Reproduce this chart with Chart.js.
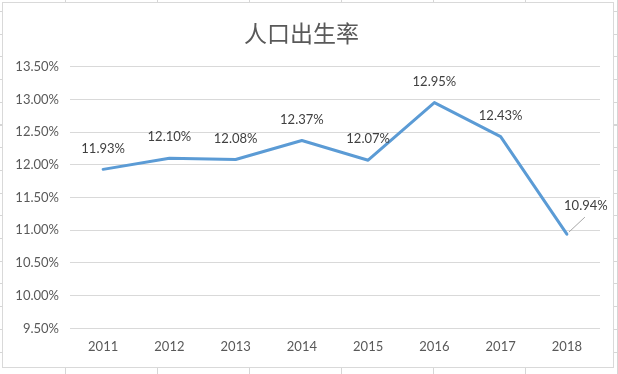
<!DOCTYPE html>
<html>
<head>
<meta charset="utf-8">
<script src="https://cdn.jsdelivr.net/npm/chart.js@4/dist/chart.umd.min.js"></script>
<style>
  html, body { margin: 0; padding: 0; }
  body {
    width: 618px; height: 374px; position: relative; overflow: hidden;
    background-color: #fff;
    background-image:
      repeating-linear-gradient(to right, transparent 0, transparent 65px, #d6d6d6 65px, #d6d6d6 66px, transparent 66px, transparent 92px),
      repeating-linear-gradient(to bottom, transparent 0, transparent 11px, #d6d6d6 11px, #d6d6d6 12px, transparent 12px, transparent 22.7px);
  }
  #box {
    position: absolute; left: 2px; top: 2px; width: 610px; height: 364px;
    border: 1px solid #d9d9d9; background: #fff;
  }
</style>
</head>
<body>
<div id="box"><canvas id="chart" width="610" height="364"></canvas></div>
<script>
const years = ['2011', '2012', '2013', '2014', '2015', '2016', '2017', '2018'];
const birthRate = [11.93, 12.10, 12.08, 12.37, 12.07, 12.95, 12.43, 10.94];
const yMin = 9.5;
const yMax = 13.5;
const yStep = 0.5;

const pct = v => v.toFixed(2) + '%';

// data labels above each point, last one pushed up-right with a leader line
const labelPlugin = {
  id: 'labels',
  afterDatasetsDraw(chart) {
    const ctx = chart.ctx;
    const pts = chart.getDatasetMeta(0).data;
    ctx.save();
    ctx.font = '13px Lato';
    ctx.fillStyle = '#404040';
    ctx.textAlign = 'center';
    ctx.textBaseline = 'middle';
    pts.forEach((p, i) => {
      const txt = pct(birthRate[i]);
      if (i === pts.length - 1) {
        ctx.strokeStyle = '#a6a6a6';
        ctx.lineWidth = 1;
        ctx.beginPath();
        ctx.moveTo(p.x + 2, p.y - 2);
        ctx.lineTo(p.x + 18, p.y - 17);
        ctx.stroke();
        ctx.fillText(txt, p.x + 19, p.y - 28);
      } else {
        ctx.fillText(txt, p.x, p.y - 21);
      }
    });
    ctx.restore();
  }
};

new Chart(document.getElementById('chart'), {
  type: 'line',
  data: {
    labels: years,
    datasets: [{
      data: birthRate,
      borderColor: '#5B9BD5',
      borderWidth: 3,
      borderCapStyle: 'round',
      borderJoinStyle: 'round',
      pointRadius: 0,
      tension: 0
    }]
  },
  options: {
    responsive: false,
    animation: false,
    layout: { padding: { left: 0, right: 13, bottom: 1, top: 0 } },
    plugins: {
      legend: { display: false },
      tooltip: { enabled: false },
      title: {
        display: true,
        text: '人口出生率',
        color: '#595959',
        font: { family: '"Noto Sans CJK SC"', size: 23, weight: 'normal', lineHeight: 1.2 },
        padding: { top: 16, bottom: 20 }
      }
    },
    scales: {
      x: {
        offset: true,
        grid: { display: false, drawTicks: false },
        border: { display: false },
        ticks: { color: '#595959', font: { family: 'Lato', size: 13 }, padding: 11 }
      },
      y: {
        min: yMin,
        max: yMax,
        afterFit: s => { s.width = 67; },
        grid: { color: '#d9d9d9', drawTicks: false },
        border: { display: false },
        ticks: {
          stepSize: yStep,
          color: '#595959',
          font: { family: 'Lato', size: 13 },
          padding: 11,
          callback: v => pct(v)
        }
      }
    }
  },
  plugins: [labelPlugin]
});
</script>
</body>
</html>
